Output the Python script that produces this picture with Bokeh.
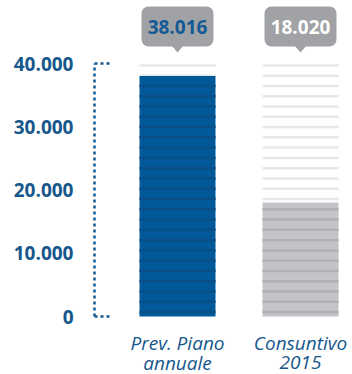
import numpy as np
from bokeh.plotting import figure
from bokeh.models import Range1d, LinearAxis, FixedTicker, CustomJSTickFormatter, BoxAnnotation
from bokeh.core.properties import value
from bokeh.embed import file_html
from bokeh.resources import INLINE

# ---- data ----
categories = ["Prev. Piano\nannuale", "Consuntivo\n2015"]
values = [38016, 18020]
value_labels = ["38.016", "18.020"]
tick_values = [0, 10000, 20000, 30000, 40000]
tick_labels = ["0", "10.000", "20.000", "30.000", "40.000"]

# ---- layout / style ----
W, H = 352, 374
AXIS_X = 94
PX = 10000 / 63.25          # data units per screen pixel (y)
ZERO_PX = 316               # screen y of zero
cat_x = [177, 300]
bar_w = 76
bar_colors = ["#01599a", "#c3c4c7"]
stripe_colors = ["#0a4f86", "#b0b1b4"]
bubble_fill = "#a1a2a5"
bubble_text = ["#135a94", "#ffffff"]
BLUE = "#16578c"
FONT = "Open Sans"

p = figure(width=W, height=H, output_backend="svg", toolbar_location=None,
           x_range=Range1d(AXIS_X, W),
           y_range=Range1d(-(H - ZERO_PX) * PX, ZERO_PX * PX),
           min_border_left=AXIS_X, min_border_right=0, min_border_top=0, min_border_bottom=0,
           x_axis_type=None, y_axis_type=None)
p.outline_line_color = None
p.grid.visible = False
p.background_fill_color = "white"
p.border_fill_color = "white"

# y axis (dotted)
yax = LinearAxis(ticker=FixedTicker(ticks=tick_values), bounds=(0, 40000))
yax.formatter = CustomJSTickFormatter(args=dict(labels=dict(zip([str(t) for t in tick_values], tick_labels))),
                                      code="return labels[String(tick)] || String(tick);")
yax.axis_line_color = BLUE
yax.axis_line_width = 2.5
yax.axis_line_dash = "3 3"
yax.major_tick_line_color = None
yax.minor_tick_line_color = None
yax.major_tick_out = 0
yax.major_tick_in = 0
yax.major_label_standoff = 21
yax.major_label_text_font = FONT
yax.major_label_text_font_style = "bold"
yax.major_label_text_font_size = "19px"
yax.major_label_text_color = BLUE
p.add_layout(yax, "left")

# horizontal dotted ends of the axis
p.segment(x0=[AXIS_X, AXIS_X], y0=[0, 40000], x1=[AXIS_X + 16, AXIS_X + 16], y1=[0, 40000],
          line_color=BLUE, line_width=2.5, line_dash="3 3")

# stripes
STEP = 1625
stripes = np.array([39700 - k * STEP for k in range(25)])
for cx, v, bc, sc in zip(cat_x, values, bar_colors, stripe_colors):
    p.segment(x0=[cx - bar_w / 2] * len(stripes), x1=[cx + bar_w / 2] * len(stripes),
              y0=stripes, y1=stripes, line_color="#e7e8e9", line_width=2.5)
    p.vbar(x=[cx], top=[v], bottom=0, width=bar_w, fill_color=bc, line_color=None)
    inside = stripes[stripes < v - 300]
    p.segment(x0=[cx - bar_w / 2] * len(inside), x1=[cx + bar_w / 2] * len(inside),
              y0=inside, y1=inside, line_color=sc, line_width=2.5)

# bubbles
b_bot = (ZERO_PX - 46) * PX
b_top = (ZERO_PX - 6) * PX
tip = (ZERO_PX - 52) * PX
for cx, lab, tc in zip(cat_x, value_labels, bubble_text):
    p.add_layout(BoxAnnotation(left=cx - 36, right=cx + 36, bottom=b_bot, top=b_top,
                               fill_color=bubble_fill, fill_alpha=1, line_color=None,
                               border_radius=7, level="underlay"))
    p.patch(x=[cx - 6, cx + 6, cx], y=[b_bot + PX, b_bot + PX, tip],
            fill_color=bubble_fill, line_color=None)
    p.text(x=[cx], y=[(b_bot + b_top) / 2], text=[lab], text_align="center", text_baseline="middle",
           text_font=value(FONT), text_font_style="bold", text_font_size="19px", text_color=tc)

# category labels (two lines each)
line1 = [c.split("\n")[0] for c in categories]
line2 = [c.split("\n")[1] for c in categories]
for lines, mid in ((line1, 342), (line2, 362)):
    p.text(x=cat_x, y=[-(mid - ZERO_PX) * PX] * 2, text=lines, text_align="center",
           text_baseline="middle",
           text_font=value(FONT), text_font_style="italic", text_font_size="19px", text_color=BLUE)

open("out.html", "w").write(file_html(p, INLINE))
